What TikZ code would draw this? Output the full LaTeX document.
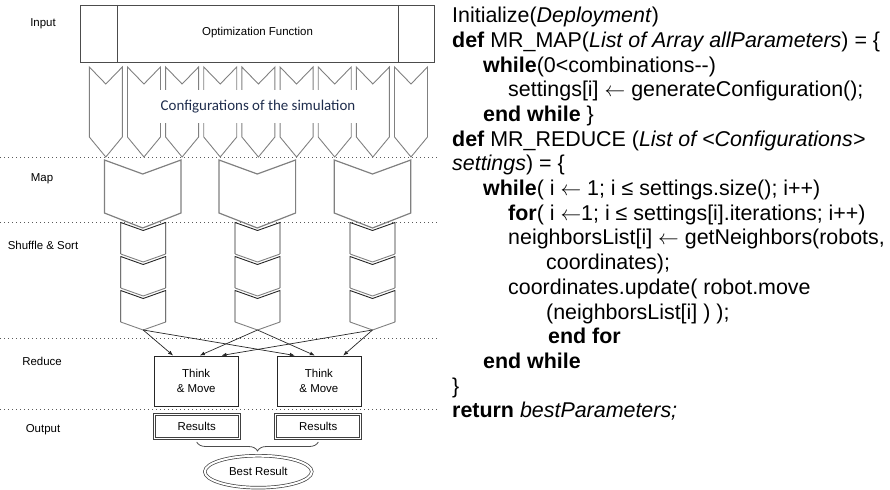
\documentclass[tikz,border=0pt]{standalone}
\usepackage{fontspec}
\setmainfont{Liberation Sans}
\newfontfamily\calfont{Carlito}
\usetikzlibrary{arrows.meta,calc,decorations.pathreplacing,shapes.geometric}

\definecolor{chevgray}{gray}{0.5}
\definecolor{framegray}{gray}{0.3}
\definecolor{confblue}{HTML}{1F2D4D}

\tikzset{
  lbl/.style={font=\fontsize{11.5}{14.3}\selectfont, inner sep=0pt},
  chevron/.style={draw=chevgray, line width=0.9bp, line join=miter},
  mapshape/.style={draw=chevgray, line width=1.2bp, line join=miter},
  shufside/.style={draw=black!85, line width=0.9bp},
  shufpoint/.style={draw=chevgray, line width=0.9bp},
  sepline/.style={draw=black!65, line width=0.7bp, dash pattern=on 0.8bp off 3.2bp},
  tmbox/.style={draw=black!85, line width=0.8bp, minimum width=84bp, minimum height=50bp,
                inner sep=0pt, align=center, font=\fontsize{11.5}{14.3}\selectfont},
  resbox/.style={draw=black!75, line width=0.7bp, double=white, double distance=1.3bp,
                 minimum width=85bp, minimum height=24.5bp, inner sep=0pt,
                 font=\fontsize{11.5}{14}\selectfont},
  bestbox/.style={ellipse, draw=black!75, line width=0.7bp, double=white, double distance=2bp,
                  minimum width=107bp, minimum height=32bp, inner sep=0pt,
                  font=\fontsize{11.5}{14}\selectfont},
  flow/.style={draw=black!85, line width=0.7bp, -{Latex[length=5bp,width=4bp]}},
  bracket/.style={draw=black!70, line width=0.8bp, decorate, decoration={brace, amplitude=9bp}},
  code/.style={anchor=base west, inner sep=0pt, font=\fontsize{21.5}{24.7}\selectfont},
}

\begin{document}
\begin{tikzpicture}[x=1bp, y=-1bp]
\useasboundingbox (0,0) rectangle (890,490);

% ---------- stage labels ----------
\node[lbl] (lin)  at (43,24)  {Input};
\node[lbl] (lmap) at (42,179) {Map};
\node[lbl] (lss)  at (43,245) {Shuffle \& Sort};
\node[lbl] (lred) at (42,361) {Reduce};
\node[lbl] (lout) at (43,430) {Output};

% ---------- stage separators ----------
\draw[sepline] (0,157)   -- (440,157);
\draw[sepline] (0,222.5) -- (440,222.5);
\draw[sepline] (0,338)   -- (440,338);
\draw[sepline] (0,409.5) -- (440,409.5);

% ---------- input: optimization function ----------
\draw[draw=framegray, line width=0.8bp] (80,5) rectangle (434,62);
\draw[draw=framegray, line width=0.8bp] (117,5) -- (117,62);
\draw[draw=framegray, line width=0.8bp] (398,5) -- (398,62);
\node[lbl] (opt) at (257.5,32.5) {Optimization Function};

% ---------- configuration chevrons ----------
\foreach \i in {0,...,8} {
  \pgfmathsetmacro{\L}{89.3+38.15*\i}
  \pgfmathsetmacro{\R}{\L+33}
  \pgfmathsetmacro{\C}{\L+16.5}
  \draw[chevron] (\L,67) -- (\C,84) -- (\R,67) -- (\R,137) -- (\C,157) -- (\L,137) -- cycle;
}
\node[fill=white, minimum width=198bp, minimum height=33bp, inner sep=0pt,
      text=confblue, font=\calfont\fontsize{15}{18}\selectfont] (conf) at (258,106.5)
      {Configurations of the simulation};

% ---------- map stage ----------
\foreach \c in {142.7,257.3,372.5} {
  \draw[mapshape] (\c-38.3,160) -- (\c,174) -- (\c+38.3,160) -- (\c+38.3,213)
                  -- (\c,228) -- (\c-38.3,213) -- cycle;
}

% ---------- shuffle & sort stacks ----------
\foreach \c in {143.2,257.5,372.5} {
  \foreach \j in {0,1,2} {
    \pgfmathsetmacro{\T}{222.5+34*\j}
    \draw[shufpoint] (\c-22.5,\T+31.5) -- (\c,\T+39.5) -- (\c+22.5,\T+31.5);
    \draw[shufside] (\c-22.5,\T+31.5) -- (\c-22.5,\T) -- (\c,\T+8) -- (\c+22.5,\T) -- (\c+22.5,\T+31.5);
  }
}
\coordinate (tipA) at (143.2,330);
\coordinate (tipB) at (257.5,330);
\coordinate (tipC) at (372.5,330);

% ---------- reduce stage ----------
\node[tmbox] (tm1) at (196.2,380.9) {Think\\\& Move};
\node[tmbox] (tm2) at (318.9,380.9) {Think\\\& Move};

\draw[flow] (tipA) -- ($(tm1.north west)+(19.3,0)$);
\draw[flow] (tipB) -- ($(tm1.north west)+(46,0)$);
\draw[flow] (tipC) -- ($(tm1.north west)+(67.7,0)$);
\draw[flow] (tipA) -- ($(tm2.north west)+(18.3,0)$);
\draw[flow] (tipB) -- ($(tm2.north west)+(38.3,0)$);
\draw[flow] (tipC) -- ($(tm2.north west)+(66.7,0)$);

% ---------- output stage ----------
\node[resbox] (res1) at (196.7,426.4) {Results};
\node[resbox] (res2) at (318.3,426.4) {Results};
\draw[bracket] ($(res2.south)+(0,3)$) -- ($(res1.south)+(0,3)$);
\node[bestbox] (best) at (258.3,471.7) {Best Result};

% ---------- pseudo-code ----------
\node[code] (c1)  at (452,22.7)  {Initialize(\textit{Deployment})};
\node[code] (c2)  at (452,47.4)  {\textbf{def} MR\_MAP(\textit{List of Array allParameters}) = \{};
\node[code] (c3)  at (483,72.1)  {\textbf{while}(0<combinations-{}-)};
\node[code] (c4)  at (508,96.8)  {settings[i] $\leftarrow$ generateConfiguration();};
\node[code] (c5)  at (483,121.5) {\textbf{end while} \}};
\node[code] (c6)  at (452,146.2) {\textbf{def} MR\_REDUCE (\textit{List of <Configurations>}};
\node[code] (c7)  at (452,170.9) {\textit{settings}) = \{};
\node[code] (c8)  at (483,195.6) {\textbf{while}( i $\leftarrow$ 1; i ≤ settings.size(); i++)};
\node[code] (c9)  at (508,220.3) {\textbf{for}( i $\leftarrow$1; i ≤ settings[i].iterations; i++)};
\node[code] (c10) at (508,245.0) {neighborsList[i] $\leftarrow$ getNeighbors(robots,};
\node[code] (c11) at (546,269.7) {coordinates);};
\node[code] (c12) at (508,294.4) {coordinates.update( robot.move};
\node[code] (c13) at (546,319.1) {(neighborsList[i] ) );};
\node[code] (c14) at (548,343.8) {\textbf{end for}};
\node[code] (c15) at (483,368.5) {\textbf{end while}};
\node[code] (c16) at (452,393.2) {\}};
\node[code] (c17) at (452,417.9) {\textbf{return} \textit{bestParameters;}};
\end{tikzpicture}
\end{document}
